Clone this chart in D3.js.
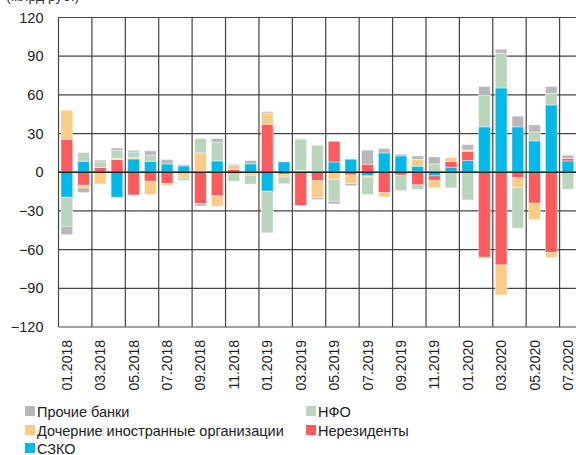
<!DOCTYPE html>
<html><head><meta charset="utf-8">
<script src="https://cdn.jsdelivr.net/npm/d3@7"></script>
<style>
body{margin:0;background:#fff;}
svg{display:block;font-family:"Liberation Sans",Arial,sans-serif;}
</style></head>
<body><svg id="c" width="576" height="455"></svg>
<script>
const months = ["01.2018","02.2018","03.2018","04.2018","05.2018","06.2018","07.2018","08.2018","09.2018","10.2018","11.2018","12.2018",
"01.2019","02.2019","03.2019","04.2019","05.2019","06.2019","07.2019","08.2019","09.2019","10.2019","11.2019","12.2019",
"01.2020","02.2020","03.2020","04.2020","05.2020","06.2020","07.2020"];
const szko = [-19.4,8.5,0,-19.4,10.3,8.5,6.5,4.9,0.8,8.8,-1.3,6.5,-14.7,8.0,0,0,8.0,10.1,-2.8,15.0,12.7,4.7,-2.8,3.9,9.1,35.2,65.4,35.2,24.3,52.2,8.8];
const nonres = [25.6,-10.1,3.7,9.8,-17.6,-7.0,-8.8,0,-24.3,-18.3,2.3,0,37.2,-1.6,-25.8,-6.5,16.0,-2.1,6.2,-15.8,-2.3,-9.8,-3.4,4.4,7.2,-65.9,-71.9,-4.1,-24.0,-62.3,1.8];
const subsid = [22.5,-2.1,-9.0,1.0,1.0,-10.1,-1.3,-4.4,14.2,-8.0,2.8,-2.3,8.8,-2.1,1.3,-13.4,-5.7,-6.7,-1.0,-3.4,0,5.4,-5.9,3.1,1.0,-1.0,-23.3,-7.8,-12.7,-3.9,0];
const nfo = [-22.5,6.7,4.4,6.2,4.4,4.7,0,-1.8,11.1,14.5,-5.7,-7.0,-32.3,-5.2,24.0,20.9,-16.8,0,-13.4,0,-11.9,-3.4,6.5,-12.1,-21.5,24.3,26.9,-31.5,7.0,9.1,-13.2];
const other = [-6.5,-3.6,1.3,1.8,1.3,3.4,3.4,1.0,-1.8,2.8,1.0,2.6,1.0,0,0.8,-1.3,-2.1,-1.6,10.9,3.4,1.3,2.6,5.4,0,4.1,7.0,3.1,8.3,5.4,5.2,2.6];
const yTicks = [120,90,60,30,0,-30,-60,-90,-120];
const seriesNames = ["СЗКО","Нерезиденты","Дочерние иностранные организации","НФО","Прочие банки"];
const seriesKeys = ["szko","nonres","subsid","nfo","other"];
const colors = {szko:"#00b9eb",nonres:"#ff5a5c",subsid:"#fecb87",nfo:"#b9d6bc",other:"#b8b8bb"};

const table = months.map((m,i)=>({month:m,szko:szko[i],nonres:nonres[i],subsid:subsid[i],nfo:nfo[i],other:other[i]}));
const svg = d3.select("#c");
const x = d3.scaleBand().domain(months).range([58.5,576.3]).paddingInner(0.3).paddingOuter(0.15);
const y = d3.scaleLinear().domain([-120,120]).range([327,17.5]);
const step = x.step();
const x0 = x.range()[0];

// unit caption (cut off at top)
svg.append("text").attr("x",6).attr("y",1).attr("font-size",14).attr("fill","#333").text("(млрд руб.)");

// grid
const g = svg.append("g");
g.selectAll("line.h").data(yTicks).join("line")
  .attr("x1",x0).attr("x2",576.3).attr("y1",d=>y(d)).attr("y2",d=>y(d))
  .attr("stroke","#444").attr("stroke-width",1.2);
const vb = d3.range(0,32,2);
g.selectAll("line.v").data(vb).join("line")
  .attr("x1",d=>x0+d*step).attr("x2",d=>x0+d*step).attr("y1",y(120)).attr("y2",y(-120))
  .attr("stroke","#444").attr("stroke-width",1.2);

// bars
const stack = d3.stack().keys(seriesKeys).offset(d3.stackOffsetDiverging);
const layers = stack(table);
svg.append("g").selectAll("g").data(layers).join("g")
  .attr("fill",d=>colors[d.key])
  .selectAll("rect").data(d=>d).join("rect")
  .attr("x",d=>x(d.data.month)).attr("width",x.bandwidth())
  .attr("y",d=>y(Math.max(d[0],d[1]))).attr("height",d=>Math.abs(y(d[0])-y(d[1])))
  .attr("stroke","#fff").attr("stroke-opacity",0.5).attr("stroke-width",0.8);

// zero line
svg.append("line").attr("x1",x0).attr("x2",576.3).attr("y1",y(0)).attr("y2",y(0))
  .attr("stroke","#222").attr("stroke-width",1.3);

// y axis labels
const ya = d3.axisLeft(y).tickValues(yTicks).tickSize(0).tickPadding(15);
const yg = svg.append("g").attr("transform",`translate(${x0},0)`).call(ya);
yg.select(".domain").remove();
yg.selectAll("text").attr("font-size",14.5).attr("fill","#222").attr("font-family","Liberation Sans, Arial, sans-serif");

// x labels
const xLabels = months.filter((m,i)=>i%2===0);
const xa = d3.axisBottom(x).tickValues(xLabels).tickSize(0).tickPadding(0);
const xg = svg.append("g").attr("transform",`translate(0,${y(-120)})`).call(xa);
xg.select(".domain").remove();
xg.selectAll("text").attr("font-size",14).attr("fill","#222").attr("font-family","Liberation Sans, Arial, sans-serif")
  .attr("text-anchor","end").attr("dy",null).attr("y",0)
  .attr("transform","translate(5,13) rotate(-90)");

// legend
const legendItems = [
  {key:"other",name:"Прочие банки",x:25,y:411},
  {key:"nfo",name:"НФО",x:306,y:411},
  {key:"subsid",name:"Дочерние иностранные организации",x:25,y:430},
  {key:"nonres",name:"Нерезиденты",x:306,y:430},
  {key:"szko",name:"СЗКО",x:25,y:448}
];
const lg = svg.append("g").selectAll("g").data(legendItems).join("g")
  .attr("transform",d=>`translate(${d.x},${d.y})`);
lg.append("rect").attr("x",0).attr("y",-5).attr("width",10).attr("height",10).attr("fill",d=>colors[d.key]);
lg.append("text").attr("x",12).attr("y",5.5).attr("font-size",14.5).attr("fill","#222").text(d=>d.name);
</script></body></html>
